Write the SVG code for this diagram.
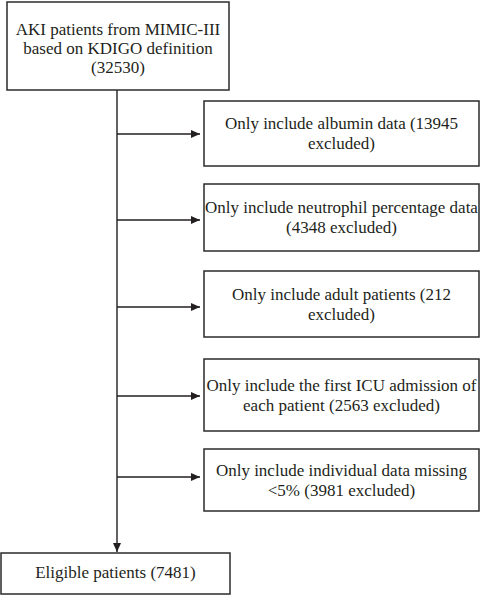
<svg xmlns="http://www.w3.org/2000/svg" width="481" height="595" viewBox="0 0 481 595">
<style>
.box{fill:#fff;stroke:#2b2b2b;stroke-width:1.5}
.t{font-family:"Liberation Serif","Times New Roman",serif;font-size:17px;fill:#231f20;text-anchor:middle}
.ln{stroke:#231f20;stroke-width:1.4;fill:none}
</style>
<defs>
<marker id="ah" markerUnits="userSpaceOnUse" markerWidth="10" markerHeight="10" viewBox="0 0 10 10" refX="9" refY="5" orient="auto">
<path d="M0,1 L9,5 L0,9 Z" fill="#231f20"/>
</marker>
</defs>
<rect width="481" height="595" fill="#fff"/>
<g id="connectors">
<line class="ln" x1="117" y1="90" x2="117" y2="552" marker-end="url(#ah)"/>
<line class="ln" x1="117" y1="134" x2="200" y2="134" marker-end="url(#ah)"/>
<line class="ln" x1="117" y1="220" x2="200" y2="220" marker-end="url(#ah)"/>
<line class="ln" x1="117" y1="307" x2="200" y2="307" marker-end="url(#ah)"/>
<line class="ln" x1="117" y1="396" x2="200" y2="396" marker-end="url(#ah)"/>
<line class="ln" x1="117" y1="477" x2="200" y2="477" marker-end="url(#ah)"/>
</g>
<g id="start">
<rect class="box" x="7" y="2" width="222" height="88"/>
<text class="t" x="118" y="35">AKI patients from MIMIC-III</text>
<text class="t" x="118" y="54">based on KDIGO definition</text>
<text class="t" x="118" y="73">(32530)</text>
</g>
<g id="ex1">
<rect class="box" x="204" y="101" width="275" height="65"/>
<text class="t" x="341.5" y="129">Only include albumin data (13945</text>
<text class="t" x="341.5" y="149">excluded)</text>
</g>
<g id="ex2">
<rect class="box" x="204" y="184" width="275" height="67"/>
<text class="t" x="341.5" y="213">Only include neutrophil percentage data</text>
<text class="t" x="341.5" y="233">(4348 excluded)</text>
</g>
<g id="ex3">
<rect class="box" x="204" y="271" width="275" height="66"/>
<text class="t" x="341.5" y="300">Only include adult patients (212</text>
<text class="t" x="341.5" y="320">excluded)</text>
</g>
<g id="ex4">
<rect class="box" x="204" y="359" width="275" height="72"/>
<text class="t" x="341.5" y="391">Only include the first ICU admission of</text>
<text class="t" x="341.5" y="411">each patient (2563 excluded)</text>
</g>
<g id="ex5">
<rect class="box" x="204" y="449" width="275" height="62"/>
<text class="t" x="341.5" y="476">Only include individual data missing</text>
<text class="t" x="341.5" y="496">&lt;5% (3981 excluded)</text>
</g>
<g id="eligible">
<rect class="box" x="1" y="553" width="229" height="41"/>
<text class="t" x="115.5" y="578">Eligible patients (7481)</text>
</g>
</svg>
